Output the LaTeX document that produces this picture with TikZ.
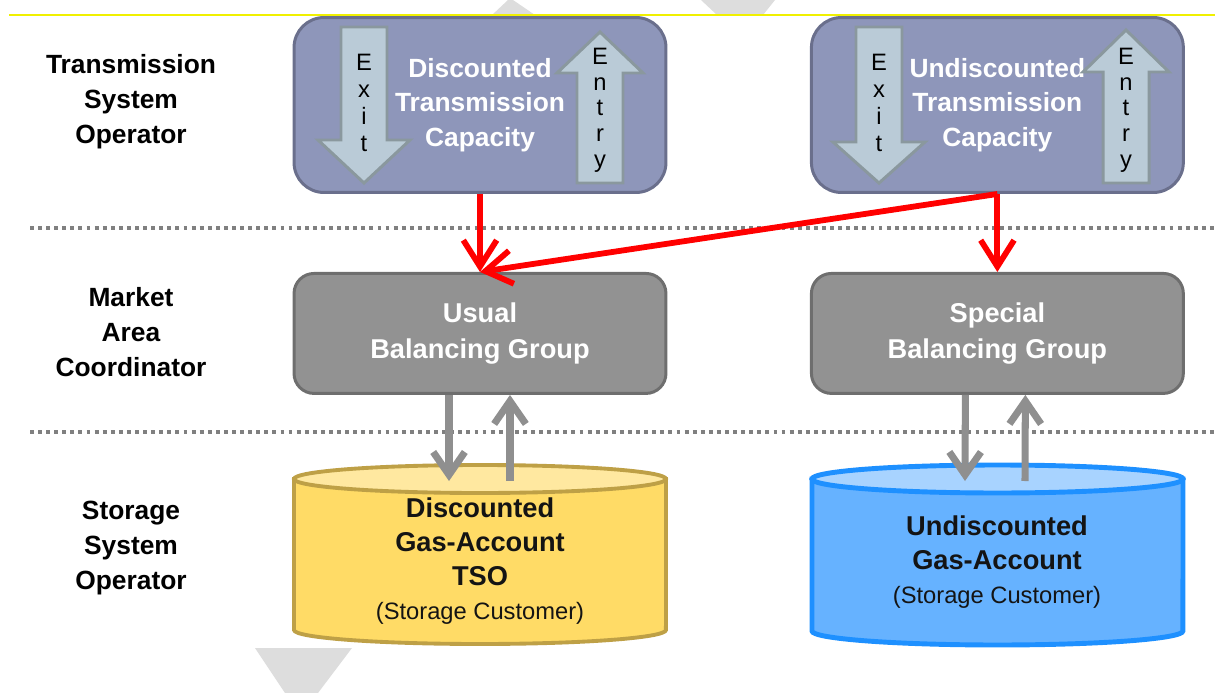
\documentclass[tikz,border=0pt]{standalone}
\usepackage{fontspec}
\setmainfont{Liberation Sans}
\usetikzlibrary{arrows.meta, positioning}

\definecolor{tsofill}{RGB}{142,150,186}
\definecolor{tsoline}{RGB}{106,111,140}
\definecolor{arrfill}{RGB}{186,203,215}
\definecolor{arrline}{RGB}{138,152,158}
\definecolor{macfill}{RGB}{146,146,146}
\definecolor{macline}{RGB}{110,110,110}
\definecolor{goldbody}{RGB}{255,219,102}
\definecolor{goldtop}{RGB}{255,232,160}
\definecolor{goldline}{RGB}{190,160,70}
\definecolor{bluebody}{RGB}{102,178,255}
\definecolor{bluetop}{RGB}{168,211,255}
\definecolor{blueline}{RGB}{30,144,255}
\definecolor{wmgray}{RGB}{221,221,221}
\definecolor{hdryellow}{RGB}{240,240,0}
\definecolor{flowgray}{RGB}{143,143,143}

\newcommand{\custnote}[1]{{\fontsize{13.5}{19.3}\selectfont\mdseries #1}}

\begin{document}
\begin{tikzpicture}[x=0.02cm, y=-0.02cm,
    rowlabel/.style={align=center, font=\fontsize{15}{20}\selectfont\bfseries},
    tsobox/.style={draw=tsoline, fill=tsofill, line width=1.7pt, rounded corners=0.6cm,
        minimum width=7.44cm, minimum height=3.5cm, text=white, align=center,
        font=\fontsize{15}{19.5}\selectfont\bfseries},
    macbox/.style={draw=macline, fill=macfill, line width=1.7pt, rounded corners=0.4cm,
        minimum width=7.44cm, minimum height=2.4cm, text=white, align=center,
        font=\fontsize{15.5}{20.4}\selectfont\bfseries},
    capsarrow/.style={fill=arrfill, draw=arrline, line width=1.7pt},
    letterstack/.style={align=center, inner sep=0pt, font=\fontsize{13.5}{15.3}\selectfont},
    cyltext/.style={align=center, text={rgb,255:red,20;green,20;blue,20},
        font=\fontsize{15.5}{19.3}\selectfont\bfseries},
    sepline/.style={draw=black!50, line width=2.2pt, dash pattern=on 2.2pt off 2.4pt},
    redflow/.style={draw=red, line width=3.3pt, -{Straight Barb[length=15pt,width=19pt]}},
    grayflow/.style={draw=flowgray, line width=4pt, -{Straight Barb[length=13pt,width=18pt]}}]

    \useasboundingbox (0,0) rectangle (1215,693);

    % watermark pieces and header rule
    \fill[wmgray] (492,15) -- (508,0) -- (513,0) -- (535,15) -- cycle;
    \fill[wmgray] (701,0) -- (775,0) -- (763,15) -- (717,15) -- cycle;
    \fill[wmgray] (255,648) -- (352,648) -- (318,693) -- (285,693) -- cycle;
    \draw[hdryellow, line width=0.6pt] (9,15) -- (1215,15);

    % layer separators
    \draw[sepline] (30,228) -- (1215,228);
    \draw[sepline] (30,432) -- (1215,432);

    % row labels
    \node (tsolbl) [rowlabel] at (131,102) {Transmission\\System\\Operator};
    \node (maclbl) [rowlabel] at (131,332) {Market\\Area\\Coordinator};
    \node (ssolbl) [rowlabel] at (131,548) {Storage\\System\\Operator};

    % capacity boxes
    \node (dtc) [tsobox] at (480,105) {Discounted\\Transmission\\Capacity};
    \node (utc) [tsobox, right=2.85cm of dtc] {Undiscounted\\Transmission\\Capacity};

    % exit / entry arrows
    \filldraw[capsarrow] (341,27) -- (387,27) -- (387,140) -- (410,140) -- (364,183) -- (318,140) -- (341,140) -- cycle;
    \filldraw[capsarrow] (577,183) -- (577,73) -- (557,73) -- (600,32) -- (643,73) -- (623,73) -- (623,183) -- cycle;
    \filldraw[capsarrow] (856,27) -- (902,27) -- (902,142) -- (925,142) -- (879,183) -- (833,142) -- (856,142) -- cycle;
    \filldraw[capsarrow] (1103,183) -- (1103,72) -- (1083,72) -- (1126,30) -- (1169,72) -- (1149,72) -- (1149,183) -- cycle;
    \node (exitd) [letterstack] at (364,103) {E\\x\\i\\t};
    \node (entryd) [letterstack, font=\fontsize{13.5}{14.6}\selectfont] at (600,110) {E\\n\\t\\r\\y};
    \node (exitu) [letterstack] at (879,103) {E\\x\\i\\t};
    \node (entryu) [letterstack, font=\fontsize{13.5}{14.6}\selectfont] at (1126,110) {E\\n\\t\\r\\y};

    % balancing groups
    \node (ubg) [macbox, below=1.56cm of dtc] {Usual\\Balancing Group};
    \node (sbg) [macbox, right=2.85cm of ubg] {Special\\Balancing Group};

    % storage gas accounts
    \filldraw[fill=goldbody, draw=goldline, line width=2.2pt] (294,479) -- (294,630)
        arc[start angle=180, end angle=360, x radius=3.72cm, y radius=0.28cm] -- (666,479) -- cycle;
    \filldraw[fill=goldtop, draw=goldline, line width=2.2pt] (480,479) ellipse [x radius=3.72cm, y radius=0.28cm];
    \filldraw[fill=bluebody, draw=blueline, line width=2.8pt] (812,479) -- (812,631)
        arc[start angle=180, end angle=360, x radius=3.71cm, y radius=0.28cm] -- (1183,479) -- cycle;
    \filldraw[fill=bluetop, draw=blueline, line width=2.8pt] (997.5,479) ellipse [x radius=3.71cm, y radius=0.28cm];
    \node (dga) [cyltext] at (480,561) {Discounted\\Gas-Account\\TSO\\\custnote{(Storage Customer)}};
    \node (uga) [cyltext] at (997,562) {Undiscounted\\Gas-Account\\\custnote{(Storage Customer)}};
    \coordinate (dgatop) at (480,481);
    \coordinate (ugatop) at (997,481);

    % capacity assignment
    \draw[redflow] (dtc.south) -- (ubg.north);
    \draw[redflow] (utc.south) -- (ubg.north);
    \draw[redflow] (utc.south) -- (sbg.north);

    % gas flows
    \draw[grayflow] ([xshift=-0.62cm]ubg.south) -- ([xshift=-0.62cm]dgatop);
    \draw[grayflow] ([xshift=0.6cm]dgatop) -- ([xshift=0.6cm]ubg.south);
    \draw[grayflow] ([xshift=-0.64cm]sbg.south) -- ([xshift=-0.64cm]ugatop);
    \draw[grayflow] ([xshift=0.56cm]ugatop) -- ([xshift=0.56cm]sbg.south);
\end{tikzpicture}
\end{document}
